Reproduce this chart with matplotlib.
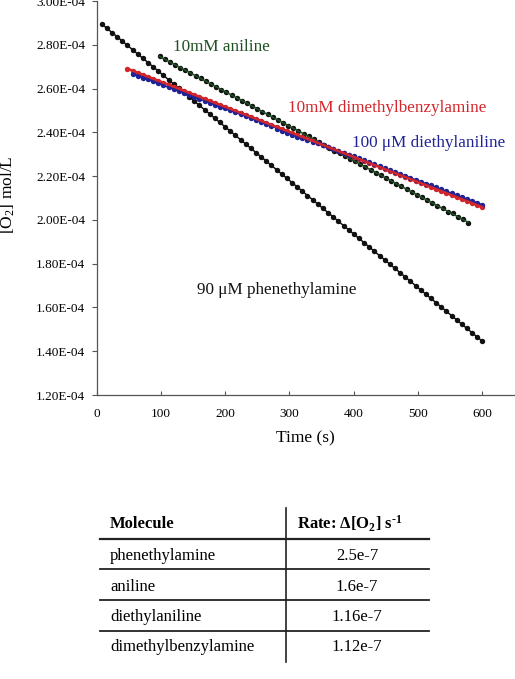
import numpy as np
import matplotlib
matplotlib.use('Agg')
import matplotlib.pyplot as plt
from matplotlib.ticker import FuncFormatter

plt.rcParams['font.family'] = ['Liberation Serif', 'DejaVu Serif']
plt.rcParams['mathtext.fontset'] = 'custom'
plt.rcParams['mathtext.rm'] = 'Liberation Serif'
plt.rcParams['mathtext.bf'] = 'Liberation Serif:bold'
plt.rcParams['mathtext.it'] = 'Liberation Serif:italic'

# ---------------- data (O2 concentration in units of 1e-4 mol/L) ----------------
phen_t = [8, 16, 24, 32, 40, 48, 56, 64, 72, 80, 88, 96, 104, 112, 120, 128, 136, 144, 152, 160,
          168, 176, 184, 192, 200, 208, 216, 224, 232, 240, 248, 256, 264, 272, 280, 288, 296, 304,
          312, 320, 328, 336, 344, 352, 360, 368, 376, 384, 392, 400, 408, 416, 424, 432, 440, 448,
          456, 464, 472, 480, 488, 496, 504, 512, 520, 528, 536, 544, 552, 560, 568, 576, 584, 592, 600]
phen_y = [2.895, 2.876, 2.856, 2.837, 2.817, 2.797, 2.778, 2.758, 2.739, 2.719, 2.699, 2.680, 2.660,
          2.641, 2.621, 2.601, 2.582, 2.562, 2.543, 2.523, 2.503, 2.484, 2.464, 2.445, 2.425, 2.405,
          2.386, 2.366, 2.347, 2.327, 2.307, 2.288, 2.268, 2.249, 2.229, 2.209, 2.190, 2.170, 2.151,
          2.131, 2.111, 2.092, 2.072, 2.053, 2.033, 2.013, 1.994, 1.974, 1.955, 1.935, 1.915, 1.896,
          1.876, 1.857, 1.837, 1.817, 1.798, 1.778, 1.759, 1.739, 1.719, 1.700, 1.680, 1.661, 1.641,
          1.621, 1.602, 1.582, 1.563, 1.543, 1.523, 1.504, 1.484, 1.465, 1.445]

anil_t = [98, 106, 114, 122, 130, 138, 146, 154, 162, 170, 178, 186, 194, 202, 210, 218, 226, 234,
          242, 250, 258, 266, 274, 282, 290, 298, 306, 314, 322, 330, 338, 346, 354, 362, 370, 378,
          386, 394, 402, 410, 418, 426, 434, 442, 450, 458, 466, 474, 482, 490, 498, 506, 514, 522,
          530, 538, 546, 554, 562, 570, 578]
anil_y = [2.747, 2.734, 2.722, 2.709, 2.696, 2.684, 2.671, 2.659, 2.646, 2.633, 2.621, 2.608, 2.595,
          2.583, 2.570, 2.557, 2.545, 2.532, 2.520, 2.507, 2.494, 2.482, 2.469, 2.456, 2.444, 2.431,
          2.418, 2.406, 2.393, 2.381, 2.368, 2.355, 2.343, 2.330, 2.317, 2.305, 2.292, 2.279, 2.267,
          2.254, 2.242, 2.229, 2.216, 2.204, 2.191, 2.178, 2.166, 2.153, 2.140, 2.128, 2.115, 2.103,
          2.090, 2.077, 2.065, 2.055, 2.036, 2.030, 2.012, 2.004, 1.986]

dmba_t = [48, 56, 64, 72, 80, 88, 96, 104, 112, 120, 128, 136, 144, 152, 160, 168, 176, 184, 192,
          200, 208, 216, 224, 232, 240, 248, 256, 264, 272, 280, 288, 296, 304, 312, 320, 328, 336,
          344, 352, 360, 368, 376, 384, 392, 400, 408, 416, 424, 432, 440, 448, 456, 464, 472, 480,
          488, 496, 504, 512, 520, 528, 536, 544, 552, 560, 568, 576, 584, 592, 600]
dmba_y = [2.691, 2.682, 2.673, 2.663, 2.654, 2.645, 2.636, 2.627, 2.618, 2.608, 2.599, 2.590, 2.581,
          2.572, 2.563, 2.553, 2.544, 2.535, 2.526, 2.517, 2.508, 2.498, 2.489, 2.480, 2.471, 2.462,
          2.452, 2.443, 2.434, 2.425, 2.416, 2.407, 2.397, 2.388, 2.379, 2.370, 2.361, 2.352, 2.342,
          2.333, 2.324, 2.315, 2.306, 2.297, 2.287, 2.278, 2.269, 2.260, 2.251, 2.241, 2.232, 2.223,
          2.214, 2.205, 2.196, 2.186, 2.177, 2.168, 2.159, 2.150, 2.141, 2.131, 2.122, 2.113, 2.104,
          2.095, 2.085, 2.076, 2.067, 2.058]

deta_t = [56, 64, 72, 80, 88, 96, 104, 112, 120, 128, 136, 144, 152, 160, 168, 176, 184, 192, 200,
          208, 216, 224, 232, 240, 248, 256, 264, 272, 280, 288, 296, 304, 312, 320, 328, 336, 344,
          352, 360, 368, 376, 384, 392, 400, 408, 416, 424, 432, 440, 448, 456, 464, 472, 480, 488,
          496, 504, 512, 520, 528, 536, 544, 552, 560, 568, 576, 584, 592, 600]
deta_y = [2.668, 2.659, 2.650, 2.642, 2.633, 2.624, 2.615, 2.606, 2.598, 2.589, 2.580, 2.571, 2.562,
          2.554, 2.545, 2.536, 2.527, 2.518, 2.510, 2.501, 2.492, 2.483, 2.474, 2.466, 2.457, 2.448,
          2.439, 2.430, 2.416, 2.407, 2.398, 2.388, 2.380, 2.372, 2.364, 2.356, 2.351, 2.342, 2.334,
          2.325, 2.316, 2.307, 2.298, 2.290, 2.281, 2.272, 2.263, 2.254, 2.246, 2.237, 2.228, 2.219,
          2.210, 2.202, 2.193, 2.184, 2.175, 2.166, 2.158, 2.149, 2.140, 2.131, 2.122, 2.114, 2.105,
          2.096, 2.087, 2.078, 2.070]

SCALE = 1e-4
x_ticks = [0, 100, 200, 300, 400, 500, 600]
y_ticks = [1.2, 1.4, 1.6, 1.8, 2.0, 2.2, 2.4, 2.6, 2.8, 3.0]

table_molecules = ['phenethylamine', 'aniline', 'diethylaniline', 'dimethylbenzylamine']
table_rates = ['2.5e-7', '1.6e-7', '1.16e-7', '1.12e-7']

# ---------------- figure ----------------
W, H = 515, 679
fig = plt.figure(figsize=(W / 100, H / 100), dpi=100)
ax = fig.add_axes([96.5 / W, 1 - 395 / H, (514.6 - 96.5) / W, 394 / H])

C_BLACK = '#111111'
C_GREEN = '#1f4f22'
C_RED = '#d3262b'
C_BLUE = '#1f2396'


def fit_line(t, y):
    t = np.asarray(t, float)
    y = np.asarray(y, float) * SCALE
    p = np.polyfit(t, y, 1)
    return t, np.polyval(p, t)


ms = 3.9
# phenethylamine
ax.plot(phen_t, np.array(phen_y) * SCALE, 'o', color=C_BLACK, ms=ms, mew=0, zorder=3)
tt, ff = fit_line(phen_t, phen_y)
ax.plot(tt, ff, '-', color=C_BLACK, lw=1.1, zorder=3)
# aniline
ax.plot(anil_t, np.array(anil_y) * SCALE, 'o', color=C_BLACK, ms=ms, mew=0, zorder=3)
tt, ff = fit_line(anil_t, anil_y)
ax.plot(tt, ff, '-', color=C_GREEN, lw=1.1, zorder=3)
# dimethylbenzylamine (red)
ax.plot(dmba_t, np.array(dmba_y) * SCALE, 'o', color=C_RED, ms=ms, mew=0, zorder=3)
# diethylaniline (blue)
ax.plot(deta_t, np.array(deta_y) * SCALE, 'o', color=C_BLUE, ms=ms, mew=0, zorder=4)
tt, ff = fit_line(deta_t, deta_y)
ax.plot(tt, ff, '-', color=C_BLUE, lw=1.1, zorder=4)
tt, ff = fit_line(dmba_t, dmba_y)
ax.plot(tt, ff, '-', color=C_RED, lw=1.8, zorder=5)

ax.set_xlim(0, 650)
ax.set_ylim(1.2 * SCALE, 3.0 * SCALE)
ax.set_xticks(x_ticks)
ax.set_yticks([v * SCALE for v in y_ticks])
ax.yaxis.set_major_formatter(FuncFormatter(lambda v, p: f"{v:.2E}"))
for s in ['top', 'right']:
    ax.spines[s].set_visible(False)
for s in ['left', 'bottom']:
    ax.spines[s].set_color('#555555')
    ax.spines[s].set_linewidth(0.9)
ax.tick_params(axis='y', direction='out', length=3.6, width=0.8, color='#555555',
               labelsize=9.5, pad=4.5)
ax.tick_params(axis='x', direction='in', length=3, width=0.8, color='#555555',
               labelsize=9.5, pad=9)
ax.set_xlabel('Time (s)', fontsize=12.5, labelpad=8)

fig.text(8 / W, 1 - 195 / H, r'[O$_2$] mol/L', rotation=90, ha='center', va='center',
         fontsize=12.5)

fs = 12.3
ax.text(119, 2.790 * SCALE, '10mM aniline', color=C_GREEN, fontsize=fs, va='center')
ax.text(298, 2.511 * SCALE, '10mM dimethylbenzylamine', color=C_RED, fontsize=fs, va='center')
ax.text(397, 2.351 * SCALE, '100 \u03bcM diethylaniline', color=C_BLUE, fontsize=fs, va='center')
ax.text(156, 1.680 * SCALE, '90 \u03bcM phenethylamine', color=C_BLACK, fontsize=fs, va='center')

# ---------------- table ----------------
tax = fig.add_axes([0, 0, 1, 1])
tax.set_xlim(0, W)
tax.set_ylim(H, 0)
tax.axis('off')
tax.patch.set_alpha(0)

col_split = 286
left, right = 100, 429
row_centers = [524, 556, 587, 617, 647]
sep_lines = [539, 569, 600, 631]
tax.plot([col_split, col_split], [508, 662], color='#222222', lw=1.2)
for i, yy in enumerate(sep_lines):
    tax.plot([left, right], [yy, yy], color='#222222', lw=1.6 if i == 0 else 1.3)

tax.text(110, row_centers[0], 'Molecule', fontsize=12, fontweight='bold', va='center')
tax.text(297, row_centers[0], r'Rate: $\mathbf{\Delta}$[O$_\mathbf{2}$] s$^\mathbf{\text{-}1}$',
         fontsize=12, fontweight='bold', va='center')
for m, r, yy in zip(table_molecules, table_rates, row_centers[1:]):
    tax.text(110, yy, m, fontsize=12, va='center')
    tax.text(357, yy, r, fontsize=12, va='center', ha='center')

fig.savefig('out.png', dpi=100)
